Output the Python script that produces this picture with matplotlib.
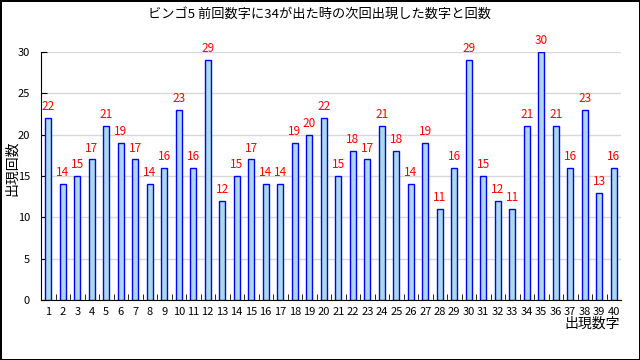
import matplotlib
matplotlib.use('Agg')
import matplotlib.pyplot as plt
import numpy as np

plt.rcParams['font.family'] = ['Noto Sans CJK JP', 'DejaVu Sans']

numbers = list(range(1, 41))
counts = [22, 14, 15, 17, 21, 19, 17, 14, 16, 23, 16, 29, 12, 15, 17, 14, 14, 19, 20, 22,
          15, 18, 17, 21, 18, 14, 19, 11, 16, 29, 15, 12, 11, 21, 30, 21, 16, 23, 13, 16]

fig = plt.figure(figsize=(6.4, 3.6), dpi=100)
fig.patch.set_edgecolor('black')
fig.patch.set_linewidth(2)
ax = fig.add_axes([41/640, 60/360, 580/640, 248/360])

x = np.arange(len(numbers))
ax.bar(x, counts, width=0.42, color='#add8e6', edgecolor='blue', linewidth=1, zorder=3)
for xi, c in zip(x, counts):
    ax.text(xi, c + 0.6, str(c), color='red', ha='center', va='bottom', fontsize=8.5)

ax.set_xlim(-0.5, len(numbers) - 0.5)
ax.set_ylim(0, 30)
ax.set_yticks(range(0, 31, 5))
ax.grid(axis='y', color='#d8d8d8', linewidth=1, zorder=0)
ax.set_xticks(x)
ax.set_xticklabels([str(n) for n in numbers], fontsize=8)
ax.set_xticks(np.arange(0.5, len(numbers) - 0.5, 1), minor=True)
ax.tick_params(axis='x', which='major', length=0, pad=5)
ax.tick_params(axis='x', which='minor', direction='in', length=4)
ax.tick_params(axis='y', direction='in', length=4, labelsize=8, pad=8)
for s in ['top', 'right']:
    ax.spines[s].set_visible(False)

fig.text(320/640, 1 - 14/360, 'ビンゴ5 前回数字に34が出た時の次回出現した数字と回数',
         ha='center', va='center', fontsize=9.5)
fig.text(620/640, 1 - 324/360, '出現数字', ha='right', va='center', fontsize=10)
fig.text(12/640, 1 - 168/360, '出現回数', ha='center', va='center', rotation=90, fontsize=10)

fig.savefig('out.png', dpi=100, edgecolor=fig.get_edgecolor())
